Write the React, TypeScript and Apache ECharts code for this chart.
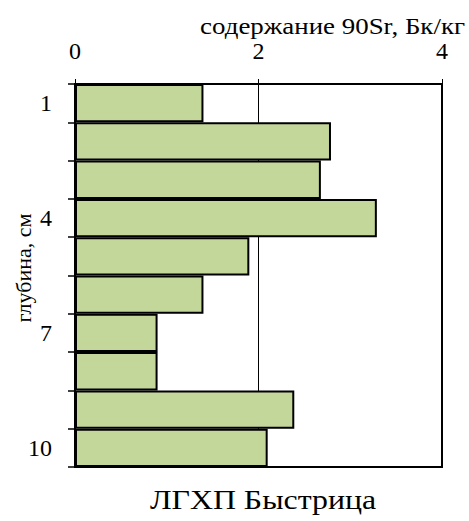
import React, { useEffect, useRef } from "react";
import * as echarts from "echarts";

const categories = ["1", "2", "3", "4", "5", "6", "7", "8", "9", "10"];
const values = [1.4, 2.79, 2.68, 3.29, 1.9, 1.4, 0.9, 0.9, 2.39, 2.1];
const xTicks = { min: 0, max: 4, interval: 2 };
const xName = "содержание 90Sr, Бк/кг";
const yName = "глубина, см";
const titleText = "ЛГХП Быстрица";

const FONT = "Liberation Serif";

export default function App() {
  const ref = useRef<HTMLDivElement>(null);
  useEffect(() => {
    if (!ref.current) return;
    const chart = echarts.init(ref.current, null, { renderer: "svg" });
    chart.setOption({
      animation: false,
      backgroundColor: "#ffffff",
      textStyle: { fontFamily: FONT },
      grid: {
        left: 75,
        top: 84,
        right: 27,
        bottom: 54,
        show: true,
        borderColor: "#000",
        borderWidth: 2,
        backgroundColor: "transparent",
      },
      xAxis: {
        type: "value",
        position: "top",
        min: xTicks.min,
        max: xTicks.max,
        interval: xTicks.interval,
        axisLine: { show: true, lineStyle: { color: "#000", width: 2 } },
        axisTick: { show: true, length: 5, lineStyle: { color: "#000", width: 1 } },
        axisLabel: { color: "#000", fontFamily: FONT, fontSize: 24, margin: 21 },
        splitLine: { show: true, lineStyle: { color: "#000", width: 1 } },
      },
      yAxis: {
        type: "category",
        inverse: true,
        data: categories,
        axisLine: { show: true, lineStyle: { color: "#000", width: 2 } },
        axisTick: {
          show: true,
          interval: 0,
          alignWithLabel: false,
          length: 7,
          lineStyle: { color: "#000", width: 1.5 },
        },
        axisLabel: {
          interval: 2,
          color: "#000",
          fontFamily: FONT,
          fontSize: 24,
          margin: 23,
        },
        splitLine: { show: false },
      },
      series: [
        {
          type: "bar",
          data: values,
          barCategoryGap: 0,
          barWidth: "100%",
          itemStyle: { color: "#c4d79b", borderColor: "#000", borderWidth: 2 },
        },
      ],
      graphic: [
        {
          type: "text",
          x: 465,
          y: 26,
          scaleX: 1.17,
          style: {
            text: xName,
            fontFamily: FONT,
            fontSize: 23,
            fill: "#000",
            align: "right",
            verticalAlign: "middle",
          },
        },
        {
          type: "text",
          x: 23,
          y: 268,
          rotation: Math.PI / 2,
          style: {
            text: yName,
            fontFamily: FONT,
            fontSize: 22,
            fill: "#000",
            align: "center",
            verticalAlign: "middle",
          },
        },
        {
          type: "text",
          x: 263,
          y: 500,
          scaleX: 1.18,
          style: {
            text: titleText,
            fontFamily: FONT,
            fontSize: 27,
            fill: "#000",
            align: "center",
            verticalAlign: "middle",
          },
        },
      ],
    });
    return () => chart.dispose();
  }, []);
  return (
    <div
      ref={ref}
      style={{ position: "absolute", left: 0, top: 0, width: 469, height: 521 }}
    />
  );
}
